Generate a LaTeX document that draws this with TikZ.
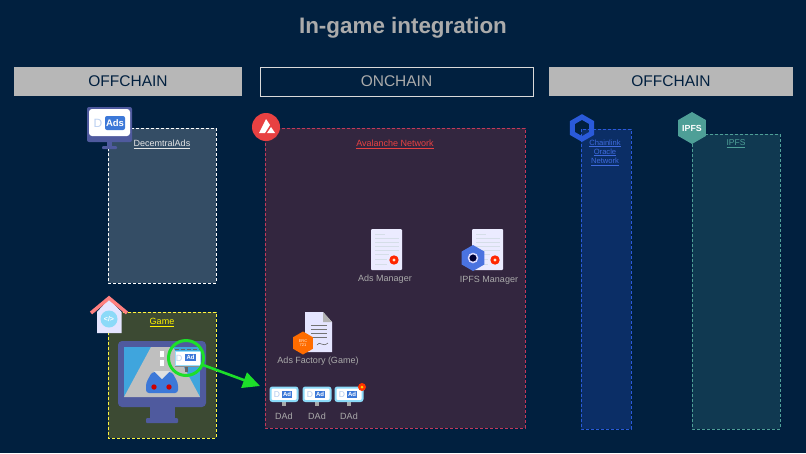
\documentclass[tikz,border=0pt]{standalone}
\usepackage{fontspec}
\setmainfont{Liberation Sans}
\usetikzlibrary{shapes.geometric,arrows.meta}

\definecolor{bgnavy}{HTML}{01203F}
\definecolor{headgray}{HTML}{B7B7B7}
\definecolor{txtgray}{HTML}{ABABAB}
\definecolor{adblue}{HTML}{3C78D8}
\definecolor{monviolet}{HTML}{4F5A9E}
\definecolor{chainblue}{HTML}{2A5ADA}
\definecolor{ipfsteal}{HTML}{4E9F97}
\definecolor{avared}{HTML}{E84142}
\definecolor{brickred}{HTML}{C2395A}
\definecolor{avafill}{HTML}{33263F}
\definecolor{gamefill}{HTML}{3C4A33}
\definecolor{brightgreen}{HTML}{1DDF2A}
\definecolor{skyblue}{HTML}{3FA5DD}
\definecolor{docline}{HTML}{D5DEE8}

\newcommand{\fs}[1]{\fontsize{#1}{#1}\selectfont}

\tikzset{
    x=1pt,y=-1pt,
    headbox/.style={minimum height=29pt,inner sep=0pt,text=bgnavy,fill=headgray,font=\fs{15.5}},
    areabox/.style={dashed,dash pattern=on 3pt off 2pt,line width=0.9pt},
    arealabel/.style={font=\fs{9},inner sep=0pt,align=center},
    iconlabel/.style={font=\fs{9},text=txtgray,inner sep=0pt},
    hexnode/.style={regular polygon,regular polygon sides=6,shape border rotate=30,inner sep=0pt},
    pics/dadicon/.style={code={
        \fill[black!35] (-2,7) rectangle (2,11);
        \fill[white,draw=cyan!45,line width=2pt,rounded corners=2pt] (-13.5,-7) rectangle (13.5,6.5);
        \fill[adblue] (-2,-3.5) rectangle (8,3.5);
        \node[text=white,font=\bfseries\fs{6},inner sep=0pt] at (3,0) {Ad};
        \node[text=adblue!40,font=\fs{8.5},inner sep=0pt] at (-7,0) {D};
    }},
    pics/certdoc/.style={code={
        \fill[white!92!blue,rounded corners=1pt] (0,0) rectangle (31,41);
        \foreach \yy/\xx in {5/10,9/24,13/24,17/24,21/24,25/14,30/12,35/12}
            \draw[docline,line width=1pt] (4,\yy) -- (4+\xx,\yy);
        \fill[red!70!orange] (23,31) circle (4.7pt);
        \fill[white!80!orange] (23,31) circle (1.6pt);
    }},
}

\begin{document}
\begin{tikzpicture}
    \fill[bgnavy] (0,0) rectangle (806,453);
    \node[font=\bfseries\fs{22.4},text=txtgray,inner sep=0pt] (title) at (403,27.5) {In-game integration};

    % headers
    \node[headbox,minimum width=228pt] (offleft) at (128,81.5) {OFFCHAIN};
    \node[headbox,minimum width=273pt,fill=bgnavy,draw=white!85!black,text=txtgray] (onmain) at (396.5,81.5) {ONCHAIN};
    \node[headbox,minimum width=244pt] (offright) at (671,81.5) {OFFCHAIN};

    % dashed areas
    \draw[areabox,draw=white,fill=white!20!bgnavy] (108,128) rectangle (216,283);
    \draw[areabox,draw=yellow!75!white,fill=gamefill] (108,312) rectangle (216,438);
    \draw[areabox,draw=brickred,fill=avafill] (265,128) rectangle (525,428);
    \draw[areabox,draw=chainblue,fill=chainblue!25!bgnavy] (581,129) rectangle (631,429);
    \draw[areabox,draw=ipfsteal,fill=ipfsteal!20!bgnavy] (692,134) rectangle (780,429);

    % area labels
    \node[arealabel,text=white!90!black] (decads) at (162,144.5) {\underline{DecemtralAds}};
    \node[arealabel,text=yellow] (gamelab) at (162,322.5) {\underline{Game}};
    \node[arealabel,text=avared] (avalab) at (395,144) {\underline{Avalanche Network}};
    \node[arealabel,font=\fs{7.6},text=chainblue!90!white] (chainlab) at (605,152.5) {\underline{Chainlink}\\[1.6pt]\underline{Oracle}\\[1.6pt]\underline{Network}};
    \node[arealabel,font=\fs{8.5},text=ipfsteal] (ipfslab) at (736,143.5) {\underline{IPFS}};

    % DecentralAds monitor
    \fill[monviolet] (107,142) rectangle (112,146);
    \fill[monviolet,rounded corners=1pt] (102,146) rectangle (117,149);
    \fill[monviolet,rounded corners=2pt] (87,107) rectangle (132,142);
    \fill[white,rounded corners=3pt] (89,109) rectangle (130,136);
    \fill[adblue,rounded corners=2pt] (105,116) rectangle (125,130);
    \node[text=white,font=\bfseries\fs{9.5},inner sep=0pt] (adstxt) at (115,123) {Ads};
    \node[text=adblue!35,font=\fs{12},inner sep=0pt] (dtxt) at (98,123) {D};

    % game house
    \fill[white!90!blue] (97,312) -- (109,299) -- (121.5,312) -- (121.5,333) -- (97,333) -- cycle;
    \draw[red!50!white,line width=3.5pt] (91,313) -- (109,298) -- (127,313);
    \node[circle,fill=cyan!45!white,minimum size=17pt,inner sep=0pt,text=white,font=\bfseries\fs{7}] (houseicon) at (109,319) {</>};

    % game monitor
    \fill[monviolet] (150,407) rectangle (175,418);
    \fill[monviolet,rounded corners=1pt] (146,418) rectangle (178,423);
    \fill[monviolet,rounded corners=4pt] (118,341) rectangle (206,407);
    \fill[skyblue] (124,347) rectangle (200,397);
    \fill[black!25] (124,397) -- (151,347) -- (173,347) -- (200,397) -- cycle;
    \fill[white] (160,351) rectangle (164,357);
    \fill[white] (160,360) rectangle (164,366);
    \fill[adblue,rounded corners=3pt] (146,383) -- (152,372) -- (172,372) -- (178,383) -- (178,393) -- (146,393) -- cycle;
    \fill[black!12] (154,371) -- (170,371) -- (162,379) -- cycle;
    \fill[red!80!black] (154,387) circle (2.7pt);
    \fill[red!80!black] (169,387) circle (2.7pt);
    \fill[black!60] (184.5,365) rectangle (187.5,372);
    \fill[white,draw=cyan!40,line width=1pt] (175,351) rectangle (200,365);
    \draw[black!60,line width=1pt,dashed,dash pattern=on 4pt off 2pt] (175,349.5) -- (200,349.5);
    \draw[black!45,line width=1.2pt] (175,366.5) -- (200,366.5);
    \fill[adblue] (185,354) rectangle (196,361);
    \node[text=white,font=\bfseries\fs{6},inner sep=0pt] (billad) at (190.5,357.5) {Ad};
    \node[text=adblue!35,font=\fs{9},inner sep=0pt] (billd) at (179,358) {D};
    \node[circle,draw=brightgreen,line width=3pt,minimum size=35pt,inner sep=0pt] (adring) at (186,358) {};

    % Avalanche logo
    \node[circle,fill=avared,minimum size=28pt,inner sep=0pt] (avalogo) at (266,127) {};
    \fill[white] (266,119) -- (259,133) -- (265,133) -- (270,125) -- cycle;
    \fill[white] (271,127) -- (267,133) -- (275,133) -- cycle;

    % chainlink and ipfs logos
    \node[hexnode,draw=chainblue,line width=5pt,minimum size=22pt] (chainlogo) at (582,128) {};
    \node[hexnode,fill=ipfsteal,minimum size=25pt,text=white,font=\bfseries\fs{8.8}] (ipfslogo) at (692,128) {IPFS};

    % contracts
    \pic at (371,229) {certdoc};
    \node[iconlabel] (adsmgr) at (385,279) {Ads Manager};
    \pic at (472,229) {certdoc};
    \node[hexnode,fill=chainblue!85!white,minimum size=26pt] (mgrhex) at (473,258) {};
    \node[circle,draw=white!85!blue,fill=black!80!blue,line width=1.5pt,minimum size=9pt,inner sep=0pt] (mgrhole) at (473,258) {};
    \node[iconlabel] (ipfsmgr) at (489,280) {IPFS Manager};

    \fill[white!90!blue] (305,312) -- (323,312) -- (332,322) -- (332,352) -- (305,352) -- cycle;
    \fill[black!30] (323,312) -- (332,322) -- (323,322) -- cycle;
    \foreach \yy in {325,329,333,337}
        \draw[black!55,line width=0.6pt] (311,\yy) -- (327,\yy);
    \draw[black!60,line width=0.6pt] (317,345) .. controls (320,340) and (322,348) .. (328,343);
    \node[hexnode,fill=orange!85!red,minimum size=23pt,text=white!85!orange,font=\fs{4},align=center] (ercbadge) at (303,343) {ERC\\721};
    \node[iconlabel] (adsfac) at (318,361) {Ads Factory (Game)};

    % dads
    \pic at (284,394.5) {dadicon};
    \pic at (317,394.5) {dadicon};
    \pic at (349,394.5) {dadicon};
    \node[circle,fill=red!60!orange,minimum size=8pt,inner sep=0pt] (nftbadge) at (362,387) {};
    \node[circle,fill=yellow!70!orange,minimum size=3pt,inner sep=0pt] (nftdot) at (362,387) {};
    \node[iconlabel] (dadone) at (284,416.5) {DAd};
    \node[iconlabel] (dadtwo) at (317,416.5) {DAd};
    \node[iconlabel] (dadthree) at (349,416.5) {DAd};

    % arrow
    \coordinate (arrowend) at (260,386);
    \draw[-{Triangle[length=17pt,width=16pt]},brightgreen,line width=2.6pt] (adring) ++(17,7) -- (arrowend);
\end{tikzpicture}
\end{document}
